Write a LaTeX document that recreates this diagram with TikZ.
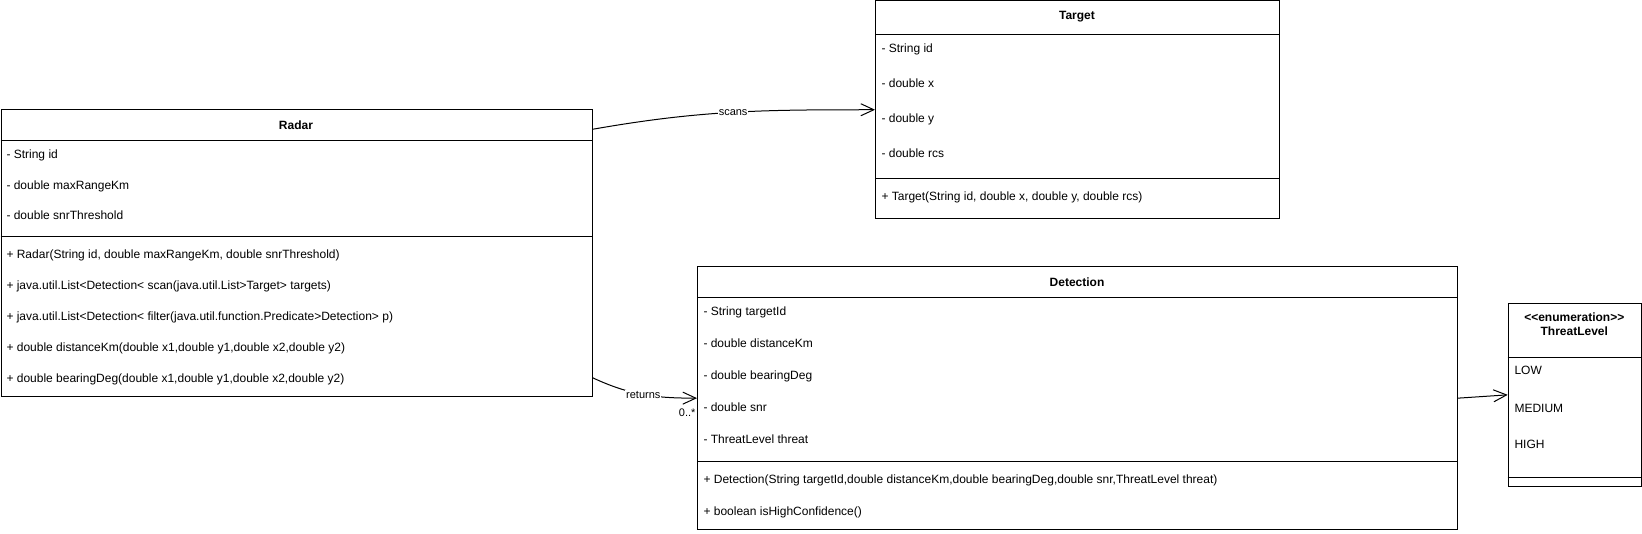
\documentclass[tikz,border=0pt]{standalone}
\usepackage{fontspec}
\setmainfont{Liberation Sans}[Ligatures=TeXOff]
\usetikzlibrary{arrows.meta,positioning,calc}

\begin{document}
\begin{tikzpicture}
[x=1pt, y=1pt, line width=1pt,
box/.style={draw, rectangle, anchor=north west, inner sep=0pt},
row/.style={anchor=west, inner sep=0pt, text height=9pt, text depth=2.5pt, font=\fontsize{12}{14}\selectfont},
head/.style={inner sep=0pt, font=\fontsize{12}{14}\selectfont\bfseries, align=center},
lbl/.style={fill=white, inner sep=1pt, font=\fontsize{11}{13}\selectfont},
mult/.style={inner sep=1pt, font=\fontsize{11}{13}\selectfont},
open/.style={-{Straight Barb[length=13pt,width=12pt]}}]

\useasboundingbox (0,0) rectangle (1642,-534);

% Radar
\node (radar) at (0.5,-109.3)[box, minimum width=591pt, minimum height=286.7pt] {};
\draw (0.5,-140.7) -- (591.5,-140.7);
\draw (0.5,-236.7) -- (591.5,-236.7);
\node (rh) at (296,-125)[head] {Radar};
\node (ra1) at (6,-155)[row] {- String id};
\node (ra2) at (6,-186)[row] {- double maxRangeKm};
\node (ra3) at (6,-216.7)[row] {- double snrThreshold};
\node (rm1) at (6,-255.7)[row] {+ Radar(String id, double maxRangeKm, double snrThreshold)};
\node (rm2) at (6,-286.7)[row] {+ java.util.List<Detection< scan(java.util.List>Target> targets)};
\node (rm3) at (6,-317.7)[row] {+ java.util.List<Detection< filter(java.util.function.Predicate>Detection> p)};
\node (rm4) at (6,-348.3)[row] {+ double distanceKm(double x1,double y1,double x2,double y2)};
\node (rm5) at (6,-379.3)[row] {+ double bearingDeg(double x1,double y1,double x2,double y2)};

% Target
\node (target) at (875,-0.5)[box, minimum width=404pt, minimum height=217.5pt] {};
\draw (875,-34.5) -- (1279,-34.5);
\draw (875,-179) -- (1279,-179);
\node (th) at (1077,-17)[head] {Target};
\node (ta1) at (881,-49)[row] {- String id};
\node (ta2) at (881,-84)[row] {- double x};
\node (ta3) at (881,-119)[row] {- double y};
\node (ta4) at (881,-154)[row] {- double rcs};
\node (tm1) at (881,-197)[row] {+ Target(String id, double x, double y, double rcs)};

% Detection
\node (detection) at (697,-266)[box, minimum width=760pt, minimum height=263.3pt] {};
\draw (697,-297.7) -- (1457,-297.7);
\draw (697,-462) -- (1457,-462);
\node (dh) at (1077,-282)[head] {Detection};
\node (da1) at (703,-312.7)[row] {- String targetId};
\node (da2) at (703,-344.7)[row] {- double distanceKm};
\node (da3) at (703,-376.7)[row] {- double bearingDeg};
\node (da4) at (703,-408.7)[row] {- double snr};
\node (da5) at (703,-440.7)[row] {- ThreatLevel threat};
\node (dm1) at (703,-480.7)[row] {+ Detection(String targetId,double distanceKm,double bearingDeg,double snr,ThreatLevel threat)};
\node (dm2) at (703,-512.7)[row] {+ boolean isHighConfidence()};

% ThreatLevel
\node (threat) at (1507.7,-302.7)[box, minimum width=133.3pt, minimum height=183.3pt] {};
\draw (1507.7,-357.7) -- (1641,-357.7);
\draw (1507.7,-477.3) -- (1641,-477.3);
\node (lh) at (1574.3,-324)[head] {<<enumeration>>\\ThreatLevel};
\node (l1) at (1514,-371.7)[row] {LOW};
\node (l2) at (1514,-409)[row] {MEDIUM};
\node (l3) at (1514,-445.7)[row] {HIGH};

% associations
\draw ([yshift=-20pt]radar.north east) edge [open, out=10, in=180] node [lbl, pos=0.5] {scans} (target.west);
\draw ([yshift=19.3pt]radar.south east) edge [open, out=-25, in=180] node [lbl, pos=0.5] {returns}
  node [mult, pos=1, below left, yshift=-9pt] {0..*} (detection.west);
\draw (detection.east) edge [open] (threat.west);
\end{tikzpicture}
\end{document}
